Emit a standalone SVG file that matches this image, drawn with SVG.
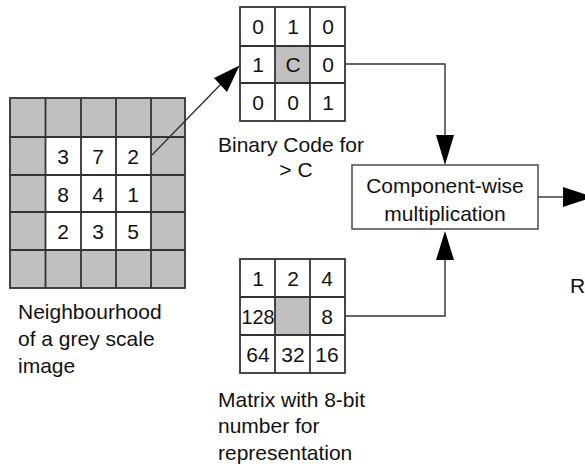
<svg xmlns="http://www.w3.org/2000/svg" width="585" height="470" viewBox="0 0 585 470">
<defs>
<style>
text{font-family:"Liberation Sans",Arial,sans-serif;font-size:21px;fill:#111}
.c{text-anchor:middle}
.big{font-size:22px}
.g{fill:#c0c0c0}
.w{fill:#fff}
.ln{stroke:#333;stroke-width:1.8;fill:none}
.conn{stroke:#333;stroke-width:1.4;fill:none}
.ah{fill:#000}
</style>
</defs>
<rect width="585" height="470" fill="#fff"/>
<g id="neighbourhood">
<rect class="g" x="10" y="98" width="175" height="190"/>
<rect class="w" x="45.5" y="137" width="105.5" height="113"/>
<g class="ln">
<rect x="10" y="98" width="175" height="190"/>
<line x1="45.5" y1="98" x2="45.5" y2="288"/>
<line x1="81" y1="98" x2="81" y2="288"/>
<line x1="116" y1="98" x2="116" y2="288"/>
<line x1="151" y1="98" x2="151" y2="288"/>
<line x1="10" y1="137" x2="185" y2="137"/>
<line x1="10" y1="175" x2="185" y2="175"/>
<line x1="10" y1="212" x2="185" y2="212"/>
<line x1="10" y1="250" x2="185" y2="250"/>
</g>
<g class="big">
<text class="c" x="63" y="164">3</text><text class="c" x="98" y="164">7</text><text class="c" x="133" y="164">2</text>
<text class="c" x="63" y="202">8</text><text class="c" x="98" y="202">4</text><text class="c" x="133" y="202">1</text>
<text class="c" x="63" y="239">2</text><text class="c" x="98" y="239">3</text><text class="c" x="133" y="239">5</text>
</g>
<text x="18" y="319">Neighbourhood</text>
<text x="18" y="346">of a grey scale</text>
<text x="18" y="373">image</text>
</g>
<g id="binary">
<rect class="w" x="240" y="7" width="105" height="114"/>
<rect class="g" x="275" y="46" width="35" height="37"/>
<g class="ln">
<rect x="240" y="7" width="105" height="114"/>
<line x1="275" y1="7" x2="275" y2="121"/>
<line x1="310" y1="7" x2="310" y2="121"/>
<line x1="240" y1="46" x2="345" y2="46"/>
<line x1="240" y1="83" x2="345" y2="83"/>
</g>
<text class="c" x="258" y="34">0</text><text class="c" x="293" y="34">1</text><text class="c" x="328" y="34">0</text>
<text class="c" x="258" y="72">1</text><text class="c" x="293" y="72">C</text><text class="c" x="328" y="72">0</text>
<text class="c" x="258" y="110">0</text><text class="c" x="293" y="110">0</text><text class="c" x="328" y="110">1</text>
<text x="218" y="152">Binary Code for</text>
<text class="c" x="296" y="177">&gt; C</text>
</g>
<g id="weights">
<rect class="w" x="240" y="259" width="105" height="114"/>
<rect class="g" x="275" y="297" width="35" height="38"/>
<g class="ln">
<rect x="240" y="259" width="105" height="114"/>
<line x1="275" y1="259" x2="275" y2="373"/>
<line x1="310" y1="259" x2="310" y2="373"/>
<line x1="240" y1="297" x2="345" y2="297"/>
<line x1="240" y1="335" x2="345" y2="335"/>
</g>
<text class="c" x="258" y="286">1</text><text class="c" x="293" y="286">2</text><text class="c" x="327" y="286">4</text>
<text class="c" x="258" y="324" textLength="33" lengthAdjust="spacingAndGlyphs">128</text><text class="c" x="327" y="324">8</text>
<text class="c" x="258" y="362">64</text><text class="c" x="293" y="362">32</text><text class="c" x="327" y="362">16</text>
<text x="218" y="407">Matrix with 8-bit</text>
<text x="218" y="433">number for</text>
<text x="218" y="460">representation</text>
</g>
<g id="multiply">
<rect x="352" y="165" width="186" height="64" fill="#fff" stroke="#555" stroke-width="1.6"/>
<text class="c" x="445" y="193">Component-wise</text>
<text class="c" x="445" y="221">multiplication</text>
</g>
<g id="result">
<text x="570" y="293">R</text>
</g>
<g id="connectors">
<line class="conn" x1="152" y1="155" x2="222" y2="83"/>
<polygon class="ah" points="239.5,65.5 214,78 227,92"/>
<polyline class="conn" points="345,64 445,64 445,137"/>
<polygon class="ah" points="445,165 436,135 454,135"/>
<polyline class="conn" points="345,316 445,316 445,258"/>
<polygon class="ah" points="445,231 436,260 454,260"/>
<line class="conn" x1="538" y1="197" x2="565" y2="197"/>
<polygon class="ah" points="593,197 563,187 563,207"/>
</g>
</svg>
